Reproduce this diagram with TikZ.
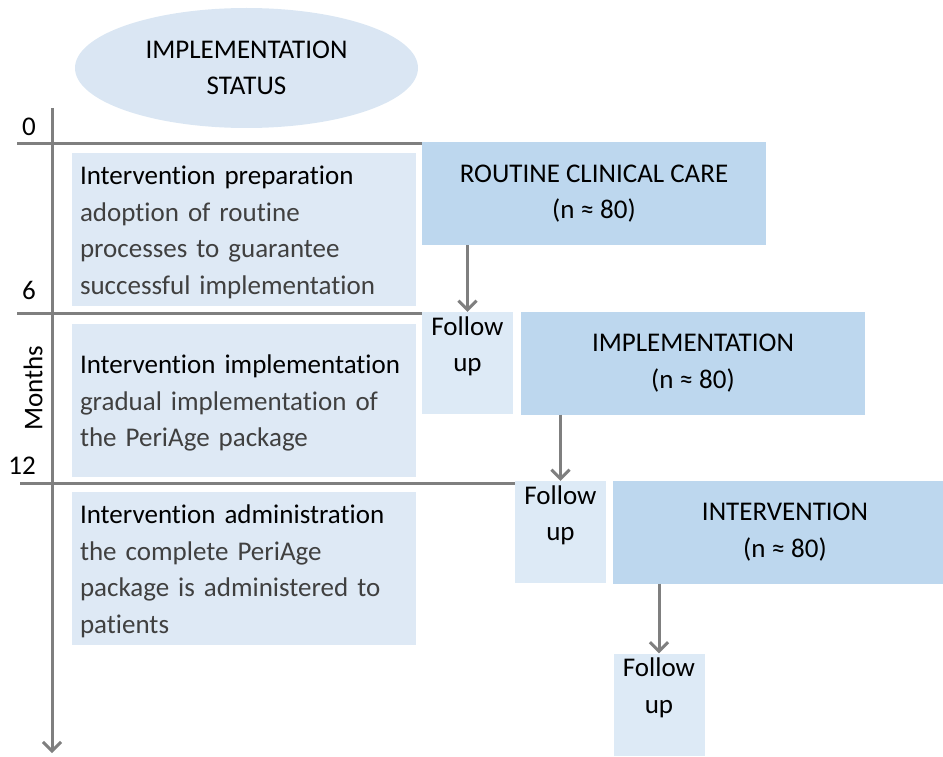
\documentclass[tikz,border=0pt]{standalone}
\usepackage{fontspec}
\setmainfont{Carlito}[Ligatures=NoCommon]
\usetikzlibrary{arrows.meta,shapes.geometric}
\definecolor{axisgray}{HTML}{7F7F7F}
\definecolor{ovalblue}{HTML}{DAE6F3}
\definecolor{phaseblue}{HTML}{DEE9F5}
\definecolor{armblue}{HTML}{BDD7EE}
\definecolor{fublue}{HTML}{DDEAF6}
\definecolor{desctext}{HTML}{404040}
\begin{document}
\begin{tikzpicture}[x=1pt,y=-1pt,
  txt/.style={font=\fontsize{27}{36.5}\selectfont, text=black},
  phase/.style={txt, fill=phaseblue, minimum width=344pt, minimum height=153pt,
    text width=328pt, inner sep=8pt, align=left},
  arm/.style={txt, fill=armblue, minimum width=344pt, minimum height=103pt,
    inner sep=0pt, align=center},
  fubox/.style={fill=fublue, minimum width=91pt, minimum height=102pt, inner sep=0pt},
  futxt/.style={txt, inner sep=0pt, align=center},
  axis/.style={draw=axisgray, line width=3pt},
  arr/.style={draw=axisgray, line width=3pt, -{Straight Barb[length=9pt,width=18pt]}}
]
\clip (0,0) rectangle (943,757);

% title oval
\node[ellipse, fill=ovalblue, minimum width=343pt, minimum height=120pt,
  txt, align=center] (status) at (246.5,68) {IMPLEMENTATION\\STATUS};

% study arms
\node[arm] (routine) at (594,193.5) {ROUTINE CLINICAL CARE\\(n ≈ 80)};
\node[arm] (impl) at (693,363) {IMPLEMENTATION\\(n ≈ 80)};
\node[arm] (interv) at (785,532) {INTERVENTION\\(n ≈ 80)};

% follow-up boxes
\node[fubox] (fu1) at (467.5,363) {};
\node[fubox] (fu2) at (560.5,532) {};
\node[fubox] (fu3) at (659,704.5) {};
\node[futxt, below=4.5pt] (fu1t) at (fu1.north) {Follow\\up};
\node[futxt, below=4.5pt] (fu2t) at (fu2.north) {Follow\\up};
\node[futxt, below=4.5pt] (fu3t) at (fu3.north) {Follow\\up};

% phase descriptions (box first, then its text a little lower)
\node[phase] (prep) at (244,229.5) {};
\node[phase, fill=none] (prept) at (244,232.5) {Intervention preparation\\
  \color{desctext}adoption of routine\\processes to guarantee\\successful implementation};
\node[phase] (implph) at (244,400) {};
\node[phase, fill=none] (implpht) at (244,403) {Intervention implementation\\
  \color{desctext}gradual implementation of\\the PeriAge package};
\node[phase] (admin) at (244,568.5) {};
\node[phase, fill=none] (admint) at (244,571.5) {Intervention administration\\
  \color{desctext}the complete PeriAge\\package is administered to\\patients};

% time axis
\coordinate (axtop) at (52,108);
\coordinate (axbot) at (52,753);
\draw[arr] (axtop) -- (axbot);
\node[txt, rotate=90] (months) at (33,388) {Months};

% month marks
\coordinate (m0) at (17,144);
\coordinate (m6) at (17,313);
\coordinate (m12) at (20,483);
\draw[axis] (m0) -- (m0 -| routine.west);
\draw[axis] (m6) -- (m6 -| fu1.west);
\draw[axis] (m12) -- (m12 -| fu2.west);
\node[txt, anchor=east, inner sep=0pt] (l0) at (36,127) {0};
\node[txt, anchor=east, inner sep=0pt] (l6) at (36,290) {6};
\node[txt, anchor=east, inner sep=0pt] (l12) at (36,466) {12};

% arm to follow-up connectors
\draw[arr] (routine.south -| fu1.north) -- (fu1.north);
\draw[arr] (impl.south -| fu2.north) -- (fu2.north);
\draw[arr] (interv.south -| fu3.north) -- (fu3.north);
\end{tikzpicture}
\end{document}
